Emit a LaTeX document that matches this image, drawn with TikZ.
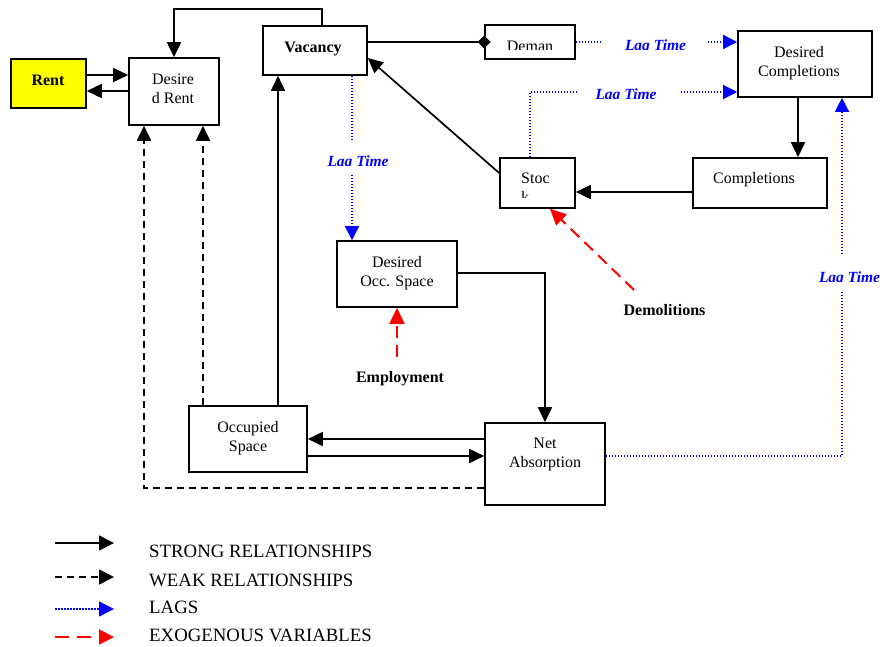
\documentclass[tikz,border=0pt]{standalone}
\usepackage{fontspec}
\setmainfont{Liberation Serif}
\usetikzlibrary{arrows.meta,calc}
\definecolor{lagblue}{RGB}{0,0,255}
\definecolor{exored}{RGB}{255,0,0}
\definecolor{rentyellow}{RGB}{255,255,0}
\tikzset{
  box/.style={draw=black, line width=1.6pt, inner sep=0pt},
  ntext/.style={font=\fontsize{16}{19}\selectfont, inner sep=0pt, anchor=base},
  btext/.style={font=\fontsize{16}{19}\selectfont\bfseries, inner sep=0pt, anchor=base},
  lagtext/.style={font=\fontsize{15.5}{18}\selectfont\bfseries\itshape, text=lagblue, inner sep=0pt, anchor=base},
  legtext/.style={font=\fontsize{18.8}{21}\selectfont, inner sep=0pt, anchor=base west},
  sarr/.style={draw=black, line width=1.7pt, -{Triangle[length=15pt,width=14pt]}},
  warr/.style={draw=black, line width=1.8pt, dash pattern=on 7pt off 5pt, -{Triangle[length=15pt,width=14pt]}},
  lagarr/.style={draw=lagblue, line width=1.4pt, dash pattern=on 1.5pt off 1.5pt, -{Triangle[length=14pt,width=14pt,fill=lagblue]}},
  exoarr/.style={draw=exored, line width=2pt, dash pattern=on 12pt off 7pt, -{Triangle[length=16pt,width=15pt,fill=exored]}},
}
\begin{document}
\begin{tikzpicture}[x=1pt,y=-1pt]
\useasboundingbox (0,0) rectangle (880,646);

% ---------- boxes ----------
\node[box, fill=rentyellow, minimum width=75pt, minimum height=49pt] (rent) at (48.5,83.5) {};
\node[box, minimum width=90pt, minimum height=67pt] (drent) at (174,91.5) {};
\node[box, minimum width=104pt, minimum height=49pt] (vac) at (315,50.5) {};
\node[box, minimum width=90pt, minimum height=34pt] (deman) at (530,42) {};
\node[box, minimum width=134pt, minimum height=66pt] (dcomp) at (805,64) {};
\node[box, minimum width=75pt, minimum height=50pt] (stock) at (537.5,183) {};
\node[box, minimum width=134pt, minimum height=50pt] (comp) at (760,183) {};
\node[box, minimum width=120pt, minimum height=66pt] (dos) at (397,274) {};
\node[box, minimum width=118pt, minimum height=66pt] (occ) at (248,439) {};
\node[box, minimum width=120pt, minimum height=82pt] (net) at (545,464) {};

% ---------- box texts ----------
\node[btext] (rentT) at (48,85.5) {Rent};
\node[ntext] (drentT1) at (173,84) {Desire};
\node[ntext] (drentT2) at (173,103) {d Rent};
\node[btext] (vacT) at (313,52) {Vacancy};
\begin{scope}
  \clip (490,27) rectangle (570,49);
  \node[ntext] (demanT) at (530,51) {Deman};
\end{scope}
\node[ntext] (dcompT1) at (799,57) {Desired};
\node[ntext] (dcompT2) at (799,76) {Completions};
\begin{scope}
  \clip (505,160) rectangle (570,197);
  \node[ntext, anchor=base west] (stockT1) at (521,183.5) {Stoc};
  \node[ntext, anchor=base west] (stockT2) at (521,202.5) {k};
\end{scope}
\node[ntext] (compT) at (754,183.5) {Completions};
\node[ntext] (dosT1) at (397,267) {Desired};
\node[ntext] (dosT2) at (397,286) {Occ. Space};
\node[ntext] (occT1) at (248,432) {Occupied};
\node[ntext] (occT2) at (248,451) {Space};
\node[ntext] (netT1) at (545,448) {Net};
\node[ntext] (netT2) at (545,467) {Absorption};

% ---------- exogenous labels ----------
\node[btext] (empT) at (400,382) {Employment};
\begin{scope}
  \clip (610,295) rectangle (720,314);
  \node[btext] (demT) at (664.5,315.5) {Demolitions};
\end{scope}
\coordinate (empS) at (397,357);
\coordinate (demS) at (634,290);

% ---------- strong relationships ----------
\draw[sarr] (rent.east |- 0,75) -- (drent.west |- 0,75);
\draw[sarr] (drent.west |- 0,91) -- (rent.east |- 0,91);
\draw[sarr] (vac.north -| 322,0) -- (322,9) -| (drent.north);
\draw[draw=black, line width=1.7pt] (vac.east |- 0,42) -- (deman.west);
\fill[black] ([xshift=-6.5pt]deman.west) -- ([yshift=6.5pt]deman.west) -- ([xshift=6.5pt]deman.west) -- ([yshift=-6.5pt]deman.west) -- cycle;
\draw[sarr] (stock.west |- 0,173) -- (vac.east |- 0,58);
\draw[sarr] (comp.west |- 0,192) -- (stock.east |- 0,192);
\draw[sarr] (dcomp.south -| 798,0) -- (comp.north -| 798,0);
\draw[sarr] (dos.east |- 0,273) -| (net.north);
\draw[sarr] (net.west |- 0,439) -- (occ.east |- 0,439);
\draw[sarr] (occ.east |- 0,456) -- (net.west |- 0,456);
\draw[sarr] (occ.north -| 278,0) -- (vac.south -| 278,0);

% ---------- weak relationships ----------
\draw[warr] (occ.north -| 203,0) -- (drent.south -| 203,0);
\draw[warr] (net.west |- 0,488) -| (drent.south -| 144,0);

% ---------- lags ----------
\draw[lagarr] (deman.east) -- (dcomp.west |- deman.east);
\draw[lagarr] (stock.north -| 530,0) |- (dcomp.west |- 0,92);
\draw[lagarr] (vac.south -| 352,0) -- (dos.north -| 352,0);
\draw[lagarr] (net.east |- 0,456) -| (dcomp.south -| 842,0);
\fill[white] (603,36) rectangle (708,48);
\fill[white] (577,86) rectangle (680,98);
\fill[white] (346,141) rectangle (358,175);
\fill[white] (836,256) rectangle (848,290);
\begin{scope}
  \clip (610,30) rectangle (700,49);
  \node[lagtext] (lag1) at (655.5,50) {Lag Time};
\end{scope}
\begin{scope}
  \clip (585,80) rectangle (670,98);
  \node[lagtext] (lag2) at (626,99) {Lag Time};
\end{scope}
\begin{scope}
  \clip (315,148) rectangle (400,165);
  \node[lagtext] (lag3) at (358,166) {Lag Time};
\end{scope}
\begin{scope}
  \clip (805,262) rectangle (895,281);
  \node[lagtext] (lag4) at (849.5,282) {Lag Time};
\end{scope}

% ---------- exogenous ----------
\draw[exoarr] (empS) -- (dos.south -| 397,0);
\draw[exoarr] (demS) -- (stock.south -| 550,0);

% ---------- legend ----------
\coordinate (l1a) at (55,543); \coordinate (l1b) at (114,543);
\coordinate (l2a) at (55,577); \coordinate (l2b) at (114,577);
\coordinate (l3a) at (55,609); \coordinate (l3b) at (114,609);
\coordinate (l4a) at (55,637); \coordinate (l4b) at (114,637);
\draw[sarr, -{Triangle[length=15pt,width=15pt]}] (l1a) -- (l1b);
\draw[warr, -{Triangle[length=15pt,width=15pt]}] (l2a) -- (l2b);
\draw[lagarr, -{Triangle[length=15pt,width=15pt,fill=lagblue]}] (l3a) -- (l3b);
\draw[exoarr, dash pattern=on 14pt off 8pt, -{Triangle[length=15pt,width=15pt,fill=exored]}] (l4a) -- (l4b);
\node[legtext] (leg1) at (149,557) {STRONG RELATIONSHIPS};
\node[legtext] (leg2) at (149,586) {WEAK RELATIONSHIPS};
\node[legtext] (leg3) at (149,613) {LAGS};
\node[legtext] (leg4) at (149,641) {EXOGENOUS VARIABLES};
\end{tikzpicture}
\end{document}
